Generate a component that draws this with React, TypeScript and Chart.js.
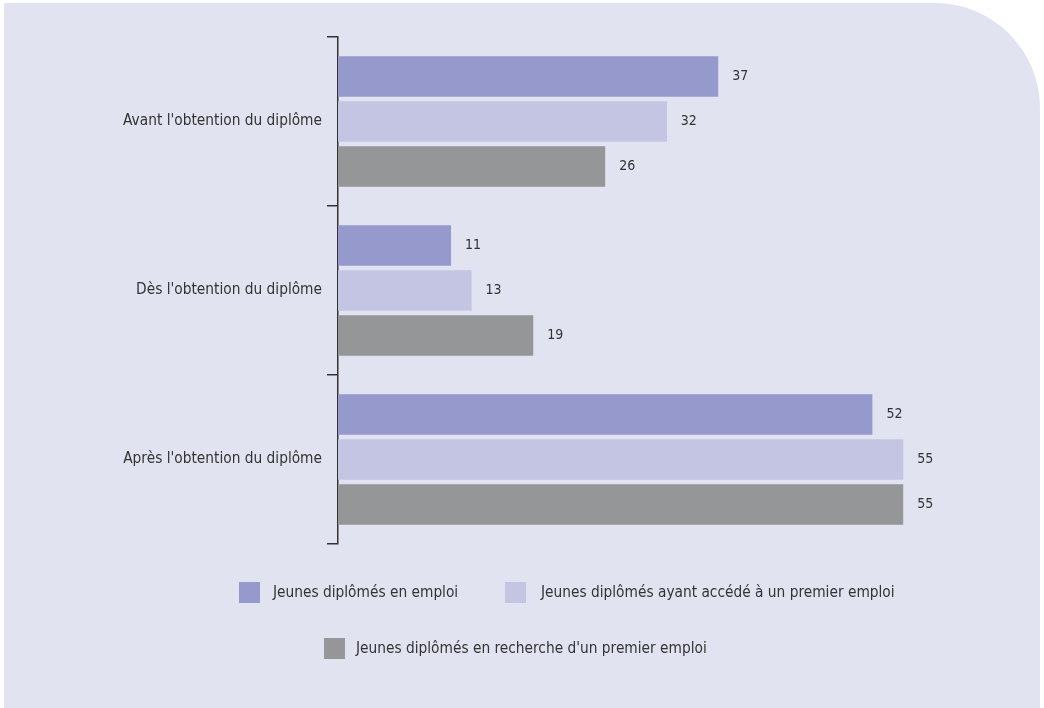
import React, { useEffect, useRef } from "react";
import { Chart, registerables } from "chart.js";

Chart.register(...registerables);

const categories = [
  "Avant l'obtention du diplôme",
  "Dès l'obtention du diplôme",
  "Après l'obtention du diplôme",
];
const seriesNames = [
  "Jeunes diplômés en emploi",
  "Jeunes diplômés ayant accédé à un premier emploi",
  "Jeunes diplômés en recherche d'un premier emploi",
];
const enEmploi = [37, 11, 52];
const premierEmploi = [32, 13, 55];
const recherche = [26, 19, 55];
const colors = ["#9699cc", "#c4c4e3", "#959698"];

const FONT = "'DejaVu Sans Condensed', 'DejaVu Sans', sans-serif";
const TEXT = "#333333";

const backgroundPlugin = {
  id: "panelBg",
  beforeDraw(chart: any) {
    const ctx = chart.ctx;
    const x0 = 4, y0 = 3, x1 = 1040, y1 = 708, r = 105;
    ctx.save();
    ctx.fillStyle = "#e2e3f1";
    ctx.beginPath();
    ctx.moveTo(x0, y0);
    ctx.lineTo(x1 - r, y0);
    ctx.arcTo(x1, y0, x1, y0 + r, r);
    ctx.lineTo(x1, y1);
    ctx.lineTo(x0, y1);
    ctx.closePath();
    ctx.fill();
    ctx.restore();
  },
};

const valueLabelPlugin = {
  id: "valueLabels",
  afterDatasetsDraw(chart: any) {
    const ctx = chart.ctx;
    ctx.save();
    ctx.font = `14px ${FONT}`;
    ctx.fillStyle = TEXT;
    ctx.textAlign = "left";
    ctx.textBaseline = "middle";
    chart.data.datasets.forEach((ds: any, i: number) => {
      const meta = chart.getDatasetMeta(i);
      meta.data.forEach((bar: any, j: number) => {
        ctx.fillText(String(ds.data[j]), bar.x + 14, bar.y);
      });
    });
    ctx.restore();
  },
};

const legendItems = [
  { box: [239, 582], text: [273, 593] },
  { box: [505, 582], text: [541, 593] },
  { box: [324, 638], text: [356, 649] },
];

const legendPlugin = {
  id: "customLegend",
  afterDraw(chart: any) {
    const ctx = chart.ctx;
    ctx.save();
    ctx.font = `15.3px ${FONT}`;
    ctx.textAlign = "left";
    ctx.textBaseline = "middle";
    chart.data.datasets.forEach((ds: any, i: number) => {
      const it = legendItems[i];
      ctx.fillStyle = ds.backgroundColor;
      ctx.fillRect(it.box[0], it.box[1], 21, 21);
      ctx.fillStyle = TEXT;
      ctx.fillText(ds.label, it.text[0], it.text[1]);
    });
    ctx.restore();
  },
};

export default function App() {
  const ref = useRef<HTMLCanvasElement>(null);
  useEffect(() => {
    const data = [enEmploi, premierEmploi, recherche];
    const chart = new Chart(ref.current!, {
      type: "bar",
      data: {
        labels: categories,
        datasets: data.map((d, i) => ({
          label: seriesNames[i],
          data: d,
          backgroundColor: colors[i],
          borderWidth: 0,
          categoryPercentage: 0.8,
          barPercentage: 0.9,
        })),
      },
      options: {
        indexAxis: "y",
        animation: false,
        responsive: false,
        maintainAspectRatio: false,
        layout: { padding: { left: 0, top: 37, bottom: 164, right: 38 } },
        plugins: {
          legend: { display: false },
          tooltip: { enabled: false },
        },
        scales: {
          x: { display: false, min: 0, max: 65 },
          y: {
            afterFit(scale: any) {
              scale.width = 338;
            },
            border: { display: true, color: "#333333", width: 1.5 },
            grid: {
              drawOnChartArea: false,
              drawTicks: true,
              tickLength: 11,
              offset: true,
              color: "#333333",
              lineWidth: 1.5,
            },
            ticks: {
              padding: 5,
              color: TEXT,
              font: { family: FONT, size: 15.3 },
            },
          },
        },
      } as any,
      plugins: [backgroundPlugin, valueLabelPlugin, legendPlugin],
    });
    return () => chart.destroy();
  }, []);
  return (
    <div style={{ position: "fixed", left: 0, top: 0, width: 1044, height: 708 }}>
      <canvas ref={ref} width={1044} height={708} style={{ width: 1044, height: 708 }} />
    </div>
  );
}
